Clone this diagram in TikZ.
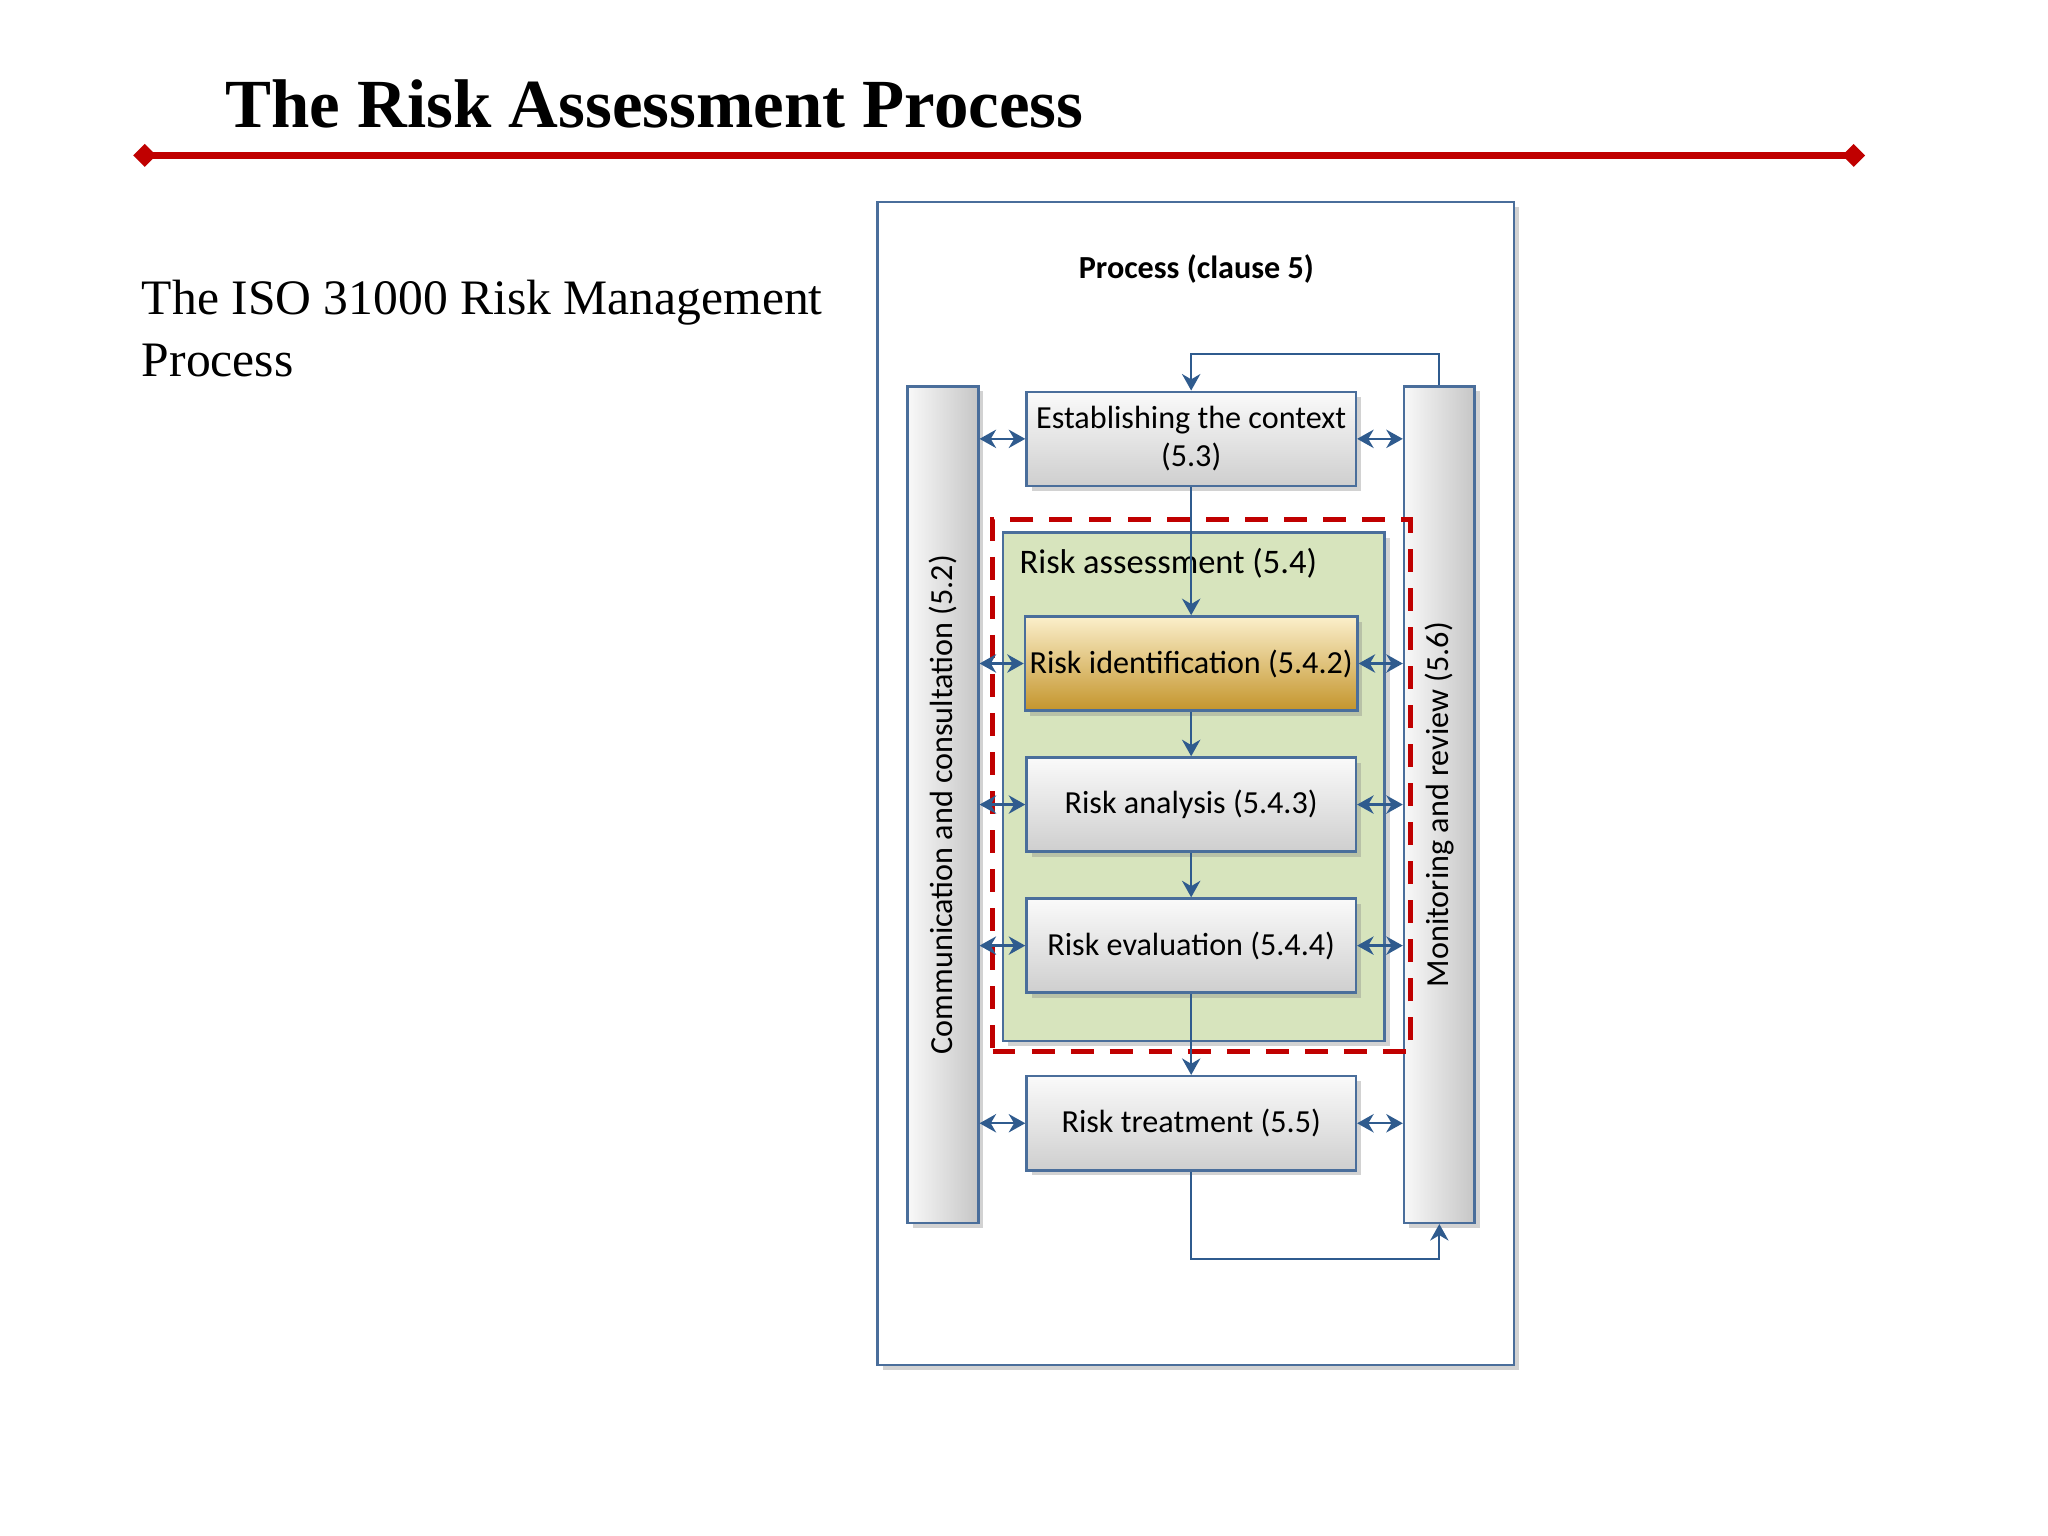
\documentclass[tikz,border=0pt]{standalone}
\usepackage{fontspec}
\setmainfont{Liberation Serif}
\newfontfamily\cali{Carlito}
\usetikzlibrary{arrows.meta,shadows,positioning}
\definecolor{rulered}{HTML}{C00000}
\definecolor{flowblue}{HTML}{2F5B8E}
\definecolor{boxline}{HTML}{4A6E9B}
\definecolor{assessgreen}{HTML}{D7E4BD}
\definecolor{goldtop}{HTML}{FBEFCB}
\definecolor{goldbot}{HTML}{C4952C}
\tikzset{
  softshadow/.style={drop shadow={opacity=0.35,shadow xshift=1.1pt,shadow yshift=-1.1pt}},
  procbox/.style={draw=boxline, line width=0.55pt, top color=gray!4, bottom color=gray!38,
    minimum width=2.52cm, minimum height=0.72cm, inner sep=1pt, align=center,
    font=\cali\fontsize{7}{8.2}\selectfont, softshadow},
  goldbox/.style={procbox, top color=goldtop, bottom color=goldbot},
  sidebar/.style={draw=boxline, line width=0.55pt, left color=gray!5, right color=gray!45,
    minimum width=0.54cm, minimum height=6.4cm, softshadow},
  bartext/.style={rotate=90, font=\cali\fontsize{7}{8}\selectfont},
  flow/.style={draw=flowblue, line width=0.5pt, -{Stealth[length=3.6pt,width=4pt]}},
  both/.style={flow, {Stealth[length=3.6pt,width=4pt]}-{Stealth[length=3.6pt,width=4pt]}},
}
\begin{document}
\begin{tikzpicture}[x=0.01cm,y=-0.01cm]
  \useasboundingbox[fill=white] (0,0) rectangle (1568,1176);
  % heading
  \node[anchor=base west, inner sep=0, font=\bfseries\fontsize{15}{18}\selectfont] (title) at (172,98) {The Risk Assessment Process};
  \coordinate (ruleL) at (102,119);
  \coordinate (ruleR) at (1428,119);
  \draw[rulered, line width=1.7pt, {Diamond[length=5pt,width=5pt]}-{Diamond[length=5pt,width=5pt]}] (ruleL) -- (ruleR);
  \node[anchor=base west, inner sep=0, font=\fontsize{10.8}{13.4}\selectfont] (intro1) at (108,241) {The ISO 31000 Risk Management};
  \node[anchor=base west, inner sep=0, font=\fontsize{10.8}{13.4}\selectfont] (intro2) at (108,288) {Process};
  % diagram frame
  \node[draw=boxline, line width=0.5pt, fill=white, minimum width=4.87cm, minimum height=8.9cm, softshadow] (frame) at (915.5,600) {};
  \node[font=\cali\bfseries\fontsize{7}{8}\selectfont] (proclabel) at (916,206) {Process (clause 5)};
  \node[sidebar] (commbar) at (722,616) {};
  \node[sidebar] (monbar) at (1102,616) {};
  \node[bartext] (commtext) at (commbar.center) {Communication and consultation (5.2)};
  \node[bartext] (montext) at (monbar.center) {Monitoring and review (5.6)};
  % risk assessment
  \node[draw=rulered, line width=1.2pt, dash pattern=on 5pt off 3.5pt, minimum width=3.2cm, minimum height=4.07cm] (dashbox) at (920,601.5) {};
  \node[draw=boxline, line width=0.55pt, fill=assessgreen, minimum width=2.92cm, minimum height=3.89cm, softshadow] (assess) at (914,602.5) {};
  \node[anchor=west, inner sep=0, font=\cali\fontsize{7.5}{9}\selectfont] (assesslabel) at (780,431) {Risk assessment (5.4)};
  % steps
  \node[procbox] (ctx) at (912,336) {Establishing the context\\(5.3)};
  \node[goldbox] (ident) at (912,508) {Risk identification (5.4.2)};
  \node[procbox] (anal) at (912,616) {Risk analysis (5.4.3)};
  \node[procbox] (evalu) at (912,724) {Risk evaluation (5.4.4)};
  \node[procbox] (treat) at (912,860) {Risk treatment (5.5)};
  % flow
  \draw[flow] (ctx) -- (ident);
  \draw[flow] (ident) -- (anal);
  \draw[flow] (anal) -- (evalu);
  \draw[flow] (evalu) -- (treat);
  \draw[flow] (monbar.north) -- ++(0,-24) -| (ctx.north);
  \draw[flow] (treat.south) -- ++(0,67) -| (monbar.south);
  \foreach \s in {ctx,ident,anal,evalu,treat}{
    \draw[both] (commbar.east |- \s.west) -- (\s.west);
    \draw[both] (\s.east) -- (monbar.west |- \s.east);
  }
\end{tikzpicture}
\end{document}
